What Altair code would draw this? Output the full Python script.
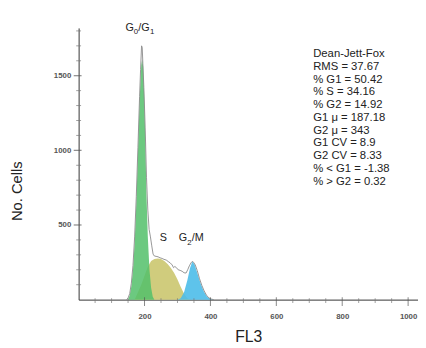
import altair as alt
import pandas as pd

# ---- data (FL3 channel value, number of cells) ----
g1_x = [150, 155, 160, 165, 170, 175, 180, 185, 190, 193, 196, 200, 203, 206, 210, 215, 220, 225, 230]
g1_y = [0, 30, 90, 200, 380, 640, 980, 1330, 1570, 1610, 1560, 1300, 1000, 700, 420, 200, 80, 20, 0]

s_x = [170, 180, 190, 200, 210, 220, 230, 240, 250, 260, 270, 280, 290, 300, 310, 320, 330, 340]
s_y = [0, 50, 100, 160, 220, 258, 272, 276, 272, 258, 238, 212, 178, 135, 85, 40, 10, 0]

g2_x = [300, 310, 320, 330, 338, 345, 352, 360, 370, 380, 390, 400, 410]
g2_y = [0, 10, 50, 130, 210, 255, 235, 180, 110, 55, 20, 4, 0]

env_x = [145, 150, 155, 160, 165, 170, 175, 180, 185, 188, 191, 193, 195, 198, 202, 206, 210,
         214, 218, 222, 226, 230, 235, 241, 247, 253, 259, 266, 272, 278, 284, 288, 292, 297,
         302, 308, 314, 320, 326, 331, 336, 341, 345, 349, 354, 360, 367, 374, 381, 388, 395,
         402, 410]
env_y = [0, 10, 40, 110, 230, 420, 690, 1020, 1360, 1540, 1700, 1690, 1580, 1420, 1150, 820, 600,
         470, 420, 360, 305, 292, 290, 287, 280, 276, 270, 265, 255, 246, 232, 214, 222, 214,
         200, 196, 190, 180, 178, 200, 226, 246, 256, 250, 232, 195, 140, 95, 58, 30, 12,
         4, 0]

x_major = [200, 400, 600, 800, 1000]
x_minor = [50, 100, 150, 250, 300, 350, 450, 500, 550, 650, 700, 750, 850, 900, 950]
y_major = [500, 1000, 1500]
y_minor = [100, 200, 300, 400, 600, 700, 800, 900, 1100, 1200, 1300, 1400, 1600, 1700, 1800]

stats_lines = ["Dean-Jett-Fox", "RMS = 37.67", "% G1 = 50.42", "% S = 34.16", "% G2 = 14.92",
               "G1 \u03bc = 187.18", "G2 \u03bc = 343", "G1 CV = 8.9", "G2 CV = 8.33",
               "% < G1 = -1.38", "% > G2 =  0.32"]

label_text = ["G", "0", "/G", "1", "S", "G", "2", "/M"]
label_x = [142, 167, 181, 217, 246, 304, 330, 343]
label_y = [1800, 1780, 1800, 1780, 390, 390, 368, 390]
label_fs = [11, 8, 11, 8, 11, 11, 8, 11]

# ---- scales / axes ----
FONT = "Liberation Sans"
xs = alt.Scale(domain=[0, 1030], nice=False, zero=False)
ys = alt.Scale(domain=[0, 1820], nice=False)
xaxis = alt.Axis(values=x_major, format="d", ticks=False, tickSize=0, grid=False, labelPadding=13,
                 labelFontSize=8, labelColor="#555", labelFont=FONT, labelFontWeight="bold",
                 domainColor="#333", titleFont=FONT, titleFontSize=16, titleFontWeight="normal",
                 titleColor="#222", titlePadding=9)
yaxis = alt.Axis(values=y_major, format="d", ticks=False, tickSize=0, grid=False, labelPadding=8,
                 labelFontSize=8, labelColor="#555", labelFont=FONT, labelFontWeight="bold",
                 domainColor="#333", titleFont=FONT, titleFontSize=15, titleFontWeight="normal",
                 titleColor="#222", titleAngle=270, titleX=-63, titleY=166,
                 titleAlign="center", titleBaseline="middle")


def X(f="x"):
    return alt.X(f"{f}:Q", scale=xs, axis=xaxis, title="FL3")


def Y(f="y"):
    return alt.Y(f"{f}:Q", scale=ys, axis=yaxis, title="No. Cells")


df_g1 = pd.DataFrame({"x": g1_x, "y": g1_y})
df_s = pd.DataFrame({"x": s_x, "y": s_y})
df_g2 = pd.DataFrame({"x": g2_x, "y": g2_y})
df_env = pd.DataFrame({"x": env_x, "y": env_y})

s_area = alt.Chart(df_s).mark_area(color="#cbc76f", opacity=0.9).encode(x=X(), y=Y())
g1_area = alt.Chart(df_g1).mark_area(color="#52bf6a", opacity=0.85).encode(x=X(), y=Y())
g2_area = alt.Chart(df_g2).mark_area(color="#4dbde9", opacity=0.9).encode(x=X(), y=Y())
env_line = alt.Chart(df_env).mark_line(color="#8a8a8a", strokeWidth=0.9).encode(x=X(), y=Y())

df_xmaj = pd.DataFrame({"x": x_major, "y": [0] * len(x_major)})
df_xmin = pd.DataFrame({"x": x_minor, "y": [0] * len(x_minor)})
df_ymaj = pd.DataFrame({"x": [0] * len(y_major), "y": y_major})
df_ymin = pd.DataFrame({"x": [0] * len(y_minor), "y": y_minor})

xt_maj = alt.Chart(df_xmaj).mark_tick(orient="vertical", size=9, thickness=1, color="#555",
                                      yOffset=2).encode(x=X(), y=Y())
xt_min = alt.Chart(df_xmin).mark_tick(orient="vertical", size=5, thickness=1, color="#777",
                                      yOffset=1).encode(x=X(), y=Y())
yt_maj = alt.Chart(df_ymaj).mark_tick(orient="horizontal", size=8, thickness=1.2, color="#555",
                                      xOffset=-1).encode(x=X(), y=Y())
yt_min = alt.Chart(df_ymin).mark_tick(orient="horizontal", size=5, thickness=1, color="#777"
                                      ).encode(x=X(), y=Y())

df_lab = pd.DataFrame({"x": label_x, "y": label_y, "t": label_text, "fs": label_fs})
labels = alt.Chart(df_lab).mark_text(align="left", baseline="alphabetic", font=FONT,
                                     color="#222").encode(
    x=X(), y=Y(), text="t:N", size=alt.Size("fs:Q", scale=None, legend=None))

df_stats = pd.DataFrame({"x": [712], "y": [1625], "t": ["\n".join(stats_lines)]})
stats = alt.Chart(df_stats).mark_text(align="left", baseline="alphabetic", font=FONT,
                                      fontSize=11.5, lineBreak="\n", lineHeight=13,
                                      color="#222").encode(x=X(), y=Y(), text="t:N")

chart = alt.layer(s_area, g1_area, g2_area, env_line, xt_min, xt_maj, yt_min, yt_maj,
                  labels, stats).properties(
    width=346, height=277, autosize="none",
    padding={"left": 72, "top": 17, "right": 0, "bottom": 46},
    background="white",
).configure_view(stroke=None)

chart.save("out.html", embed_options={"renderer": "svg", "actions": False})
